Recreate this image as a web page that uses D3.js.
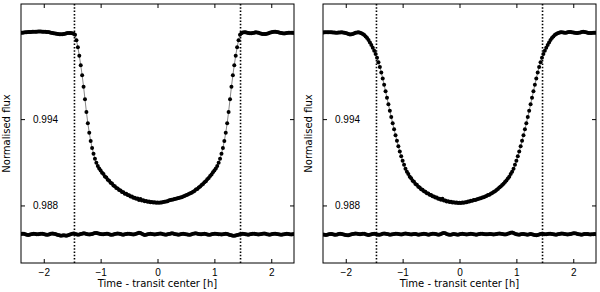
<!DOCTYPE html>
<html>
<head>
<meta charset="UTF-8" />
<title>Transit light curves</title>
<style>
  body { margin: 0; background: #fff; }
  svg { font-family: "DejaVu Sans", sans-serif; }
  .tick text { font-size: 10px; fill: #000; }
  .tick line { stroke: #000; }
  .axis-label { font-size: 10px; fill: #000; }
  .frame { fill: none; stroke: #000; stroke-width: 1px; }
  .model { fill: none; stroke: #888; stroke-width: 1px; }
  .contact { stroke: #000; stroke-width: 1.6px; stroke-dasharray: 1.5,1.8; }
</style>
<script src="https://d3js.org/d3.v7.min.js"></script>
</head>
<body>
<script>
// observations, one every 1.5 min (0.025 h), from -2.4 h to +2.4 h
var tStart = -2.4, cadence = 0.025;

// transit depth, units of 1e-5 (flux = 1 - depth)
var leftDepth = [
  0,-1,-2,-3,-4,-5,-6,-6,-7,-7,
  -8,-8,-9,-9,-9,-8,-8,-7,-6,-5,
  -3,-1,1,3,5,7,9,10,11,10,
  8,6,4,2,1,1,3,6,
  14,52,100,160,225,295,375,462,550,628,
  695,752,800,840,875,903,926,944,958,
  973,982,998,1006,1021,1028,1042,1048,1061,1066,
  1078,1082,1093,1096,1106,1108,1118,1119,1128,1129,
  1138,1138,1146,1146,1154,1151,1162,1156,1166,1164,
  1171,1169,1175,1173,1178,1176,1180,1178,1182,1180,
  1181,1179,1180,1176,1175,1172,1170,1165,1163,1160,
  1158,1156,1154,1150,1148,1145,1143,1137,1134,1130,
  1125,1121,1115,1111,1104,1099,1090,1085,1075,1069,
  1058,1051,1039,1031,1018,1009,995,985,970,958,
  944,926,903,875,840,800,752,695,628,550,
  462,375,295,225,160,100,52,14,
  3,-2,-4,-3,0,2,4,3,1,-1,
  -3,-2,0,3,6,8,9,8,6,3,
  0,-3,-6,-8,-8,-6,-3,0,2,4,
  5,4,2,0,-1,-1,0,1
];

var rightDepth = [
  -2,-3,-3,-4,-4,-3,-3,-2,-2,-1,
  -1,-2,-2,-3,-2,0,2,5,9,12,
  11,8,4,0,-2,-3,
  -1,3,8,15,25,37,51,67,85,104,
  125,148,174,204,238,276,318,362,407,452,
  497,542,586,629,671,712,751,789,825,858,
  889,918,945,
  966,981,1001,1011,1028,1036,1051,1057,1070,1075,
  1087,1091,1102,1105,1115,1117,1126,1127,1136,1137,
  1145,1145,1153,1153,1160,1154,1166,1165,1172,1170,
  1176,1174,1179,1177,1181,1180,1183,1182,
  1183,1180,1181,1177,1177,1173,1173,1168,1168,1163,
  1162,1158,1156,1152,1150,1145,1143,1137,1135,1128,
  1125,1118,1114,1106,1101,1092,1086,1076,1069,1058,
  1050,1037,1027,1012,1000,982,965,945,918,889,
  858,825,789,751,712,671,629,586,542,497,
  452,407,362,318,276,238,204,174,148,125,
  104,85,67,51,37,25,15,8,3,-1,
  -3,-4,-2,0,-1,-3,-5,-6,-4,-2,
  0,1,2,0,-2,-5,-7,-6,-3,-1,
  1,2,1,0,-1,0
];

// residuals, units of 1e-5, drawn around residOffset
var residOffset = 0.986;
var leftResid = [
  2,4,3,0,-3,-5,-4,-1,2,3,
  1,-1,0,2,4,3,1,-2,-4,-3,
  0,3,5,4,1,-2,-5,-8,-10,-9,
  -7,-9,-11,-8,-4,0,3,5,2,-1,
  -3,-2,1,4,6,5,2,0,-2,-1,
  2,5,8,9,6,3,1,-1,0,2,
  4,3,0,-3,-4,-2,1,3,5,4,
  1,-2,-3,-1,2,4,3,1,-1,-2,
  0,3,7,10,8,3,-2,-5,-3,0,
  2,3,1,-1,-2,0,2,4,5,3,
  0,-2,-3,-1,2,4,6,5,2,0,
  -2,-3,-1,1,3,2,0,-2,-4,-3,
  0,3,5,6,4,1,-1,0,2,3,
  1,-2,-4,-3,0,2,4,3,1,0,
  -1,-2,0,2,3,1,-2,-5,-8,-10,
  -11,-9,-6,-3,0,2,3,2,0,-2,
  -3,-1,2,4,3,1,-1,-2,0,2,
  4,5,3,0,-2,-3,-1,1,3,4,
  2,0,-2,-3,-2,0,2,3,1,-1,
  -2,0,1
];

var rightResid = [
  -2,-4,-5,-3,0,2,1,-1,-3,-4,
  -2,1,3,2,0,-3,-6,-8,-7,-4,
  -1,2,4,5,3,1,0,2,4,3,
  0,-3,-5,-4,-1,2,3,1,-2,-4,
  -3,0,3,5,4,2,-1,-3,-2,0,
  2,4,3,1,-1,-2,0,3,5,4,
  1,-1,-2,0,2,1,-1,-3,-2,0,
  2,3,1,-1,-3,-2,1,3,4,2,
  -1,-3,-2,2,6,9,7,2,-2,-4,
  -3,-1,1,0,-2,-3,-1,2,3,1,
  -1,-2,0,2,3,2,0,-2,-3,-1,
  1,3,4,2,0,-1,0,2,1,-1,
  -2,-1,1,3,5,4,1,-1,-2,0,
  3,7,11,12,8,3,0,-2,-3,-1,
  1,2,0,-2,-3,-1,1,0,-3,-6,
  -7,-5,-2,1,3,2,0,-1,1,3,
  4,2,0,-2,-3,-1,2,4,5,3,
  1,-1,-2,0,2,4,6,7,5,2,
  0,-2,-3,-1,1,2,1,-1,-2,-1,
  0,1,0
];

var contacts = [-1.46, 1.46];
var xTicks = [-2, -1, 0, 1, 2];
var yTicks = [0.988, 0.994];
var xDomain = [-2.4, 2.4], yDomain = [0.984, 1.002];

var W = 600, H = 292;
var pw = 273, ph = 259;
var panels = [
  {left: 21, depth: leftDepth, resid: leftResid},
  {left: 323, depth: rightDepth, resid: rightResid}
];

var svg = d3.select("body").append("svg")
    .attr("width", W)
    .attr("height", H);

var x = d3.scaleLinear().domain(xDomain).range([0, pw]);
var y = d3.scaleLinear().domain(yDomain).range([ph, 0]);

var line = d3.line()
    .x(function(d) { return x(d.t); })
    .y(function(d) { return y(d.f); });

svg.append("clipPath").attr("id", "plotclip")
  .append("rect").attr("width", pw).attr("height", ph);

panels.forEach(function(p) {
  var g = svg.append("g").attr("transform", "translate(" + p.left + ",4)");

  var lc = p.depth.map(function(d, i) {
    return {t: tStart + i * cadence, f: 1 - d * 1e-5};
  });
  var rs = p.resid.map(function(d, i) {
    return {t: tStart + i * cadence, f: residOffset + d * 1e-5};
  });

  var plot = g.append("g").attr("clip-path", "url(#plotclip)");

  plot.selectAll(".contact")
    .data(contacts)
    .enter().append("line")
    .attr("class", "contact")
    .attr("x1", x).attr("x2", x)
    .attr("y1", 0).attr("y2", ph);

  plot.append("path").datum(lc).attr("class", "model").attr("d", line);

  plot.selectAll(".pt")
    .data(lc.concat(rs))
    .enter().append("circle")
    .attr("class", "pt")
    .attr("cx", function(d) { return x(d.t); })
    .attr("cy", function(d) { return y(d.f); })
    .attr("r", 2)
    .attr("fill", "#000");

  // axes, ticks pointing in on every side
  g.append("g").attr("transform", "translate(0," + ph + ")")
    .call(d3.axisBottom(x).tickValues(xTicks).tickSizeInner(-4).tickSizeOuter(0).tickPadding(6)
      .tickFormat(function(d) { return d < 0 ? "\u2212" + Math.abs(d) : d; }));
  g.append("g")
    .call(d3.axisTop(x).tickValues(xTicks).tickSizeInner(-4).tickSizeOuter(0).tickFormat(""));
  g.append("g").attr("transform", "translate(" + pw + ",0)")
    .call(d3.axisRight(y).tickValues(yTicks).tickSizeInner(-4).tickSizeOuter(0).tickFormat(""));
  var ya = g.append("g")
    .call(d3.axisLeft(y).tickValues(yTicks).tickSizeInner(-4).tickSizeOuter(0).tickFormat(d3.format(".3f")));
  ya.selectAll("text").attr("x", 12).attr("text-anchor", "start");

  g.selectAll(".domain").remove();
  g.selectAll(".tick text").attr("font-family", null).attr("font-size", null);

  g.append("rect").attr("class", "frame").attr("width", pw).attr("height", ph);

  g.append("text").attr("class", "axis-label")
    .attr("x", pw / 2).attr("y", 283)
    .attr("text-anchor", "middle")
    .text("Time - transit center [h]");

  g.append("text").attr("class", "axis-label")
    .attr("transform", "translate(-11," + (ph / 2) + ")rotate(-90)")
    .attr("text-anchor", "middle")
    .text("Normalised flux");
});
</script>
</body>
</html>
